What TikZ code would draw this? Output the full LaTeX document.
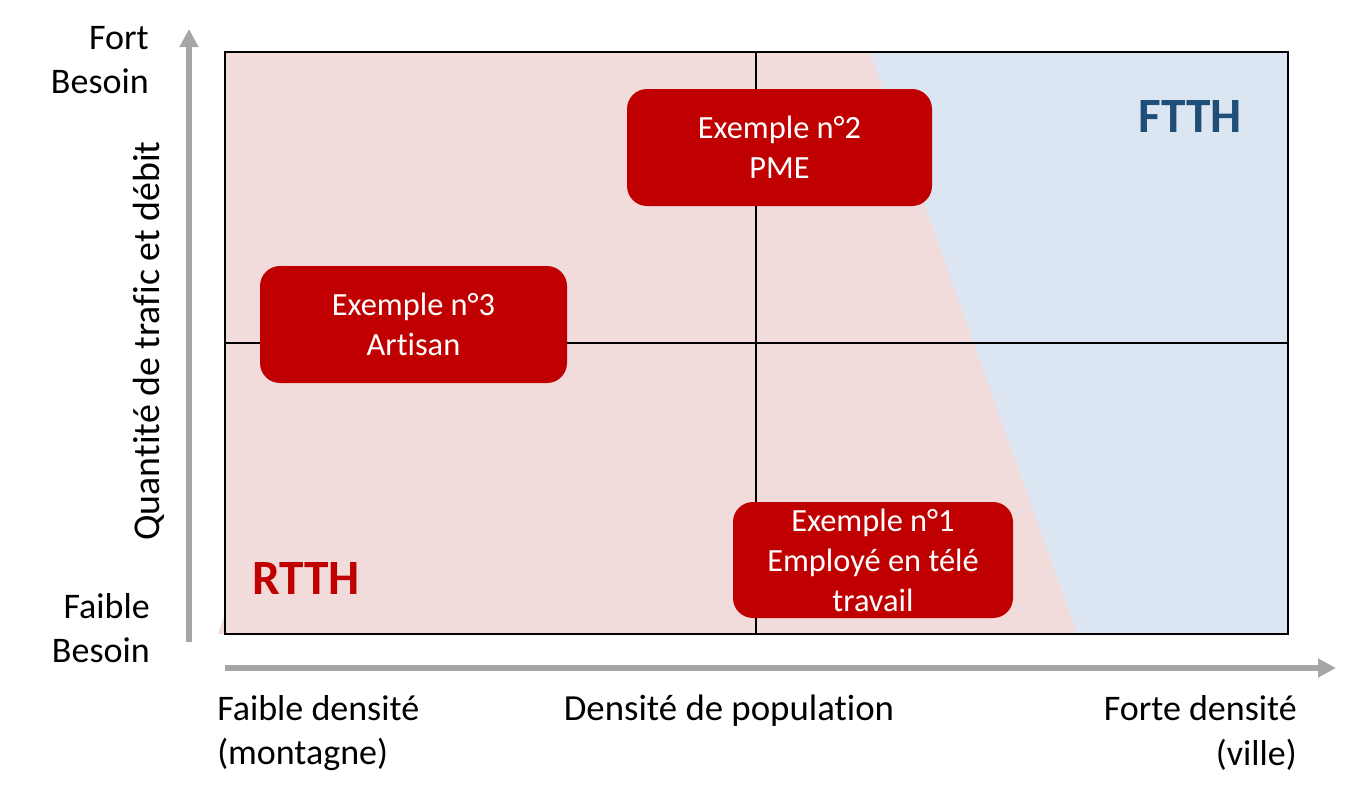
\documentclass[tikz,border=0pt]{standalone}
\usepackage{fontspec}
\setmainfont[Ligatures=NoCommon]{Carlito}
\usetikzlibrary{arrows.meta}
\definecolor{pinkbg}{HTML}{F2DCDB}
\definecolor{bluebg}{HTML}{DCE6F2}
\definecolor{boxred}{HTML}{C00000}
\definecolor{ftthblue}{HTML}{1F4E79}
\definecolor{axisgray}{HTML}{A6A6A6}
\begin{document}
\begin{tikzpicture}[x=0.75pt,y=-0.75pt,
  axislbl/.style={font=\fontsize{27}{33.5}\selectfont, inner sep=0pt},
  bigtag/.style={font=\fontsize{37}{44}\selectfont\bfseries, inner sep=0pt},
  examplebox/.style={fill=boxred, rounded corners=15pt, text=white,
    font=\fontsize{24.3}{30}\selectfont, align=center, inner sep=0pt},
  grayarrow/.style={draw=axisgray, line width=4.5pt,
    -{Triangle[length=13.5pt,width=13.5pt]}},
  frameline/.style={draw=black, line width=1.5pt},
  midline/.style={draw=black, line width=1pt}]
\useasboundingbox (0,0) rectangle (1354,800);
% background regions
\fill[bluebg] (225,52) rectangle (1288,634);
\fill[pinkbg] (218,634) -- (225,614) -- (225,52) -- (870,52) -- (1077,634) -- cycle;
% frame and mid lines
\coordinate (tl) at (225,52);
\coordinate (br) at (1288,634);
\coordinate (mt) at (756,52);
\coordinate (mb) at (756,634);
\coordinate (ml) at (225,343);
\coordinate (mr) at (1288,343);
\draw[midline] (mt) -- (mb);
\draw[midline] (ml) -- (mr);
\draw[frameline] (tl) rectangle (br);
% axes
\coordinate (ya) at (189,642);
\coordinate (yb) at (189,29);
\coordinate (xa) at (225,668);
\coordinate (xb) at (1336,668);
\draw[grayarrow] (ya) -- (yb);
\draw[grayarrow] (xa) -- (xb);
% example boxes
\node[examplebox, minimum width=228.75pt, minimum height=87.75pt] (ex2) at (779.5,147.5) {Exemple n°2\\PME};
\node[examplebox, minimum width=230.25pt, minimum height=87.75pt] (ex3) at (413.5,324.5) {Exemple n°3\\Artisan};
\node[examplebox, minimum width=210pt, minimum height=87pt] (ex1) at (873,560) {Exemple n°1\\Employé en télé\\travail};
% tags
\node[bigtag, text=ftthblue] (ftth) at (1190,117) {FTTH};
\node[bigtag, text=boxred] (rtth) at (306,578) {RTTH};
% axis labels
\node[axislbl, align=right, anchor=east] (fort) at (149,60) {Fort\\Besoin};
\node[axislbl, align=right, anchor=east] (faible) at (150,628) {Faible\\Besoin};
\node[axislbl, font=\fontsize{28.4}{33.5}\selectfont, rotate=90] (ylab) at (149,341) {Quantité de trafic et débit};
\node[axislbl, align=left, anchor=west] (xl) at (217,733) {Faible densité\\(montagne)};
\node[axislbl, font=\fontsize{27.6}{33.5}\selectfont] (xm) at (729,711) {Densité de population};
\node[axislbl, align=right, anchor=east] (xr) at (1297,733) {Forte densité\\(ville)};
\end{tikzpicture}
\end{document}
